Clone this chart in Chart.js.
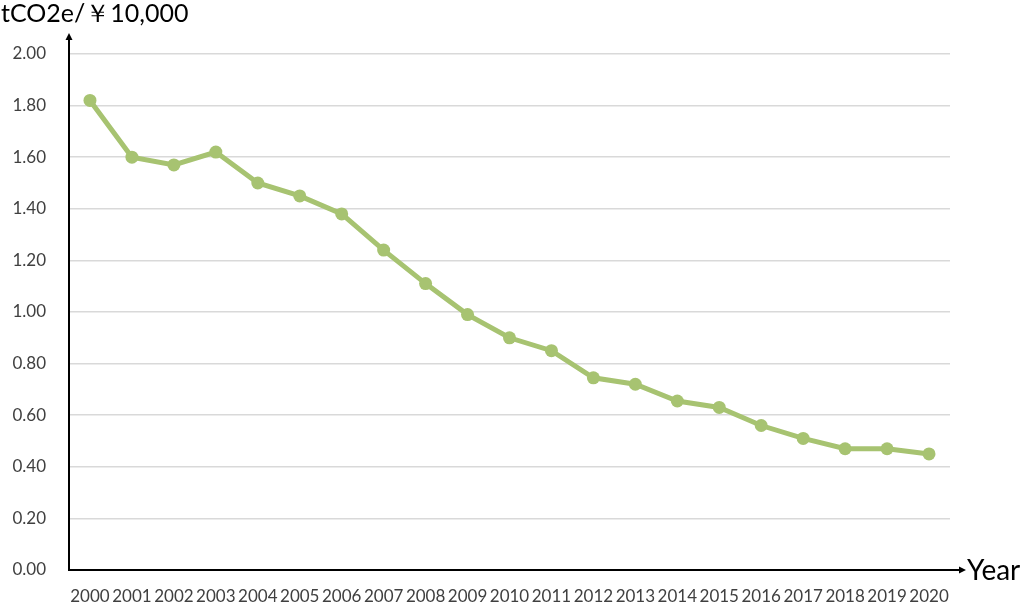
<!DOCTYPE html>
<html>
<head>
<meta charset="utf-8">
<script src="https://cdn.jsdelivr.net/npm/chart.js@4"></script>
<style>
  html, body { margin: 0; padding: 0; background: #fff; }
  #wrap { width: 1024px; height: 605px; position: relative; }
</style>
</head>
<body>
<div id="wrap"><canvas id="chart"></canvas></div>
<script>
const years = ['2000', '2001', '2002', '2003', '2004', '2005', '2006', '2007', '2008', '2009',
  '2010', '2011', '2012', '2013', '2014', '2015', '2016', '2017', '2018', '2019', '2020'];
const intensity = [1.82, 1.60, 1.57, 1.62, 1.50, 1.45, 1.38, 1.24, 1.11, 0.99,
  0.90, 0.85, 0.745, 0.72, 0.655, 0.63, 0.56, 0.51, 0.47, 0.47, 0.45];
const yTitle = 'tCO2e/￥10,000';
const xTitle = 'Year';

const FONT = 'Lato, "Noto Sans", sans-serif';

// axis arrows + axis titles
const axisDecor = {
  id: 'axisDecor',
  afterDraw(chart) {
    const { ctx, chartArea: a } = chart;
    ctx.save();
    ctx.strokeStyle = '#000';
    ctx.fillStyle = '#000';
    ctx.lineWidth = 2;
    // y axis up to arrow
    ctx.beginPath();
    ctx.moveTo(a.left, a.top);
    ctx.lineTo(a.left, 38);
    ctx.stroke();
    ctx.beginPath();
    ctx.moveTo(a.left, 33);
    ctx.lineTo(a.left - 3.5, 40);
    ctx.lineTo(a.left + 3.5, 40);
    ctx.closePath();
    ctx.fill();
    // x axis to arrow
    ctx.beginPath();
    ctx.moveTo(a.right, a.bottom);
    ctx.lineTo(960, a.bottom);
    ctx.stroke();
    ctx.beginPath();
    ctx.moveTo(966, a.bottom);
    ctx.lineTo(959, a.bottom - 3.5);
    ctx.lineTo(959, a.bottom + 3.5);
    ctx.closePath();
    ctx.fill();

    ctx.font = '25px ' + FONT;
    ctx.textBaseline = 'alphabetic';
    ctx.textAlign = 'left';
    ctx.fillText(yTitle, 1, 22);
    ctx.font = '28px ' + FONT;
    ctx.fillText(xTitle, 967, a.bottom + 10);
    ctx.restore();
  }
};

new Chart(document.getElementById('chart'), {
  type: 'line',
  data: {
    labels: years,
    datasets: [{
      data: intensity,
      borderColor: '#a7c371',
      backgroundColor: '#a7c371',
      borderWidth: 5,
      pointRadius: 6.5,
      pointHoverRadius: 6.5,
      pointBackgroundColor: '#a7c371',
      pointBorderWidth: 0,
      tension: 0,
    }]
  },
  options: {
    responsive: true,
    maintainAspectRatio: false,
    animation: false,
    layout: { padding: { top: 54, right: 74, left: 0, bottom: 0 } },
    plugins: { legend: { display: false }, tooltip: { enabled: false } },
    scales: {
      x: {
        offset: true,
        afterFit: s => { s.height = 35; },
        grid: { display: false, drawTicks: false },
        border: { color: '#000', width: 2 },
        ticks: { color: '#404040', font: { family: FONT, size: 17 }, padding: 16, maxRotation: 0, autoSkip: false }
      },
      y: {
        min: 0,
        max: 2,
        afterFit: s => { s.width = 69; },
        ticks: {
          stepSize: 0.2,
          color: '#404040',
          padding: 23,
          font: { family: FONT, size: 17 },
          callback: v => v.toFixed(2)
        },
        grid: { color: '#d9d9d9', lineWidth: 1.5, drawTicks: false },
        border: { color: '#000', width: 2 }
      }
    }
  },
  plugins: [axisDecor]
});
</script>
</body>
</html>
